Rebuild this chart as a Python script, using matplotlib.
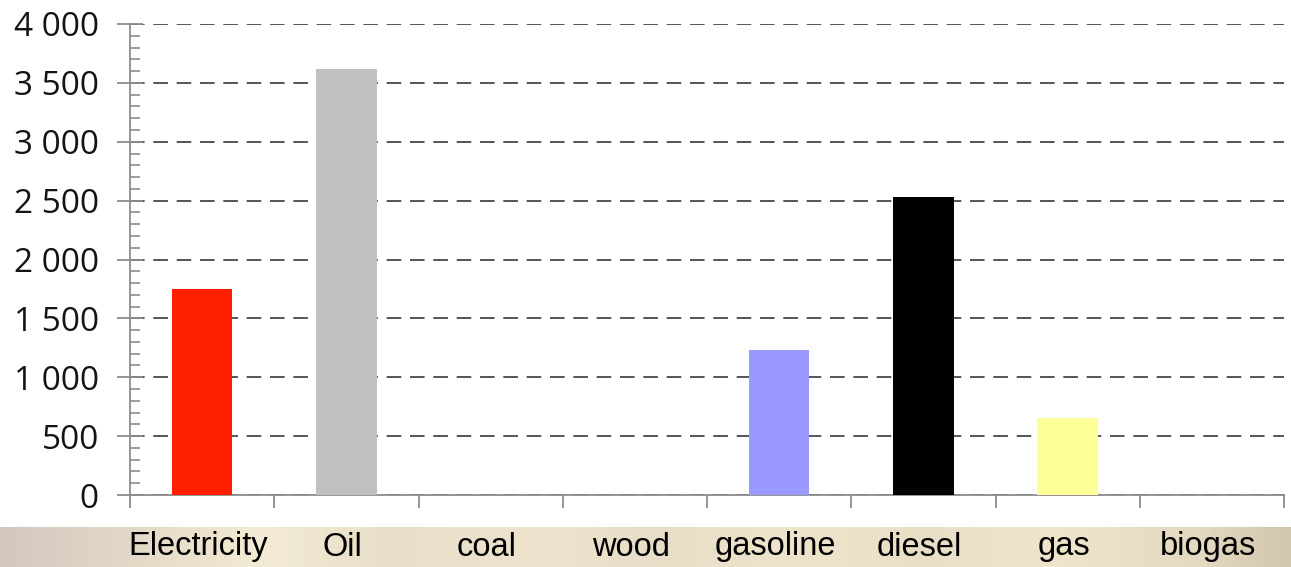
import matplotlib
matplotlib.use("Agg")
import matplotlib.pyplot as plt
import numpy as np
from matplotlib.ticker import MultipleLocator, FuncFormatter
from matplotlib.colors import LinearSegmentedColormap

# data
categories = ["Electricity", "Oil", "coal", "wood", "gasoline", "diesel", "gas", "biogas"]
values = [1750, 3620, 0, 0, 1230, 2535, 655, 0]
bar_colors = ["#ff2000", "#c0c0c0", "#ffffff", "#ffffff", "#9999ff", "#000000", "#ffff99", "#ffffff"]

W, H = 1291, 567
fig = plt.figure(figsize=(W / 100, H / 100), dpi=100)

# plot area
ax = fig.add_axes([130 / W, (H - 495) / H, (1284 - 130) / W, (495 - 24) / H])
x = np.arange(len(categories)) + 0.5
ax.bar(x, values, width=0.42, color=bar_colors, zorder=3)

ax.set_xlim(0, len(categories))
ax.set_ylim(0, 4000)
ax.yaxis.set_major_locator(MultipleLocator(500))
ax.yaxis.set_minor_locator(MultipleLocator(100))
ax.yaxis.set_major_formatter(FuncFormatter(lambda v, p: "{:,}".format(int(v)).replace(",", " ")))
ax.set_xticks(np.arange(len(categories) + 1))
ax.set_xticklabels([])

for s in ["top", "right"]:
    ax.spines[s].set_visible(False)
for s in ["left", "bottom"]:
    ax.spines[s].set_color("#8c8c8c")
    ax.spines[s].set_linewidth(1.3)

ax.tick_params(axis="y", which="major", direction="inout", length=19, width=1.3,
               color="#8c8c8c", pad=13, labelsize=24, labelcolor="#141414")
ax.tick_params(axis="y", which="minor", direction="in", length=7.5, width=1.2, color="#8c8c8c")
ax.tick_params(axis="x", which="major", direction="out", length=9.5, width=1.3, color="#8c8c8c")
for lab in ax.get_yticklabels():
    lab.set_family("Open Sans")

ax.yaxis.grid(True, which="major", color="#555555", linewidth=1.4, linestyle=(0, (7.5, 4.5)), zorder=1)
ax.set_axisbelow(True)

# textured beige strip under the chart
strip = fig.add_axes([0, 0, 1, 40 / H])
strip.set_axis_off()
cmap = LinearSegmentedColormap.from_list("strip", [
    (0.0, "#d3c8c0"), (0.06, "#ddd2c4"), (0.15, "#ece2cc"), (0.2, "#f4ebd4"), (0.3, "#e9dfc9"),
    (0.42, "#eee4ce"), (0.5, "#e8ddc6"), (0.62, "#eee3cb"), (0.72, "#e9dec6"),
    (0.82, "#efe5cd"), (0.93, "#e4d9c1"), (1.0, "#d2c6ae")])
grad = np.linspace(0, 1, 600)[None, :]
strip.imshow(grad, aspect="auto", cmap=cmap, extent=[0, 1, 0, 1])
strip.set_xlim(0, 1)
strip.set_ylim(0, 1)

for xi, name in zip(x, categories):
    xf = (126 + xi / len(categories) * (1284 - 130)) / W
    fig.text(xf, 20 / H, name, ha="center", va="center", fontsize=23.5,
             family="Liberation Sans", color="#000000")

fig.savefig("out.png", dpi=100)
